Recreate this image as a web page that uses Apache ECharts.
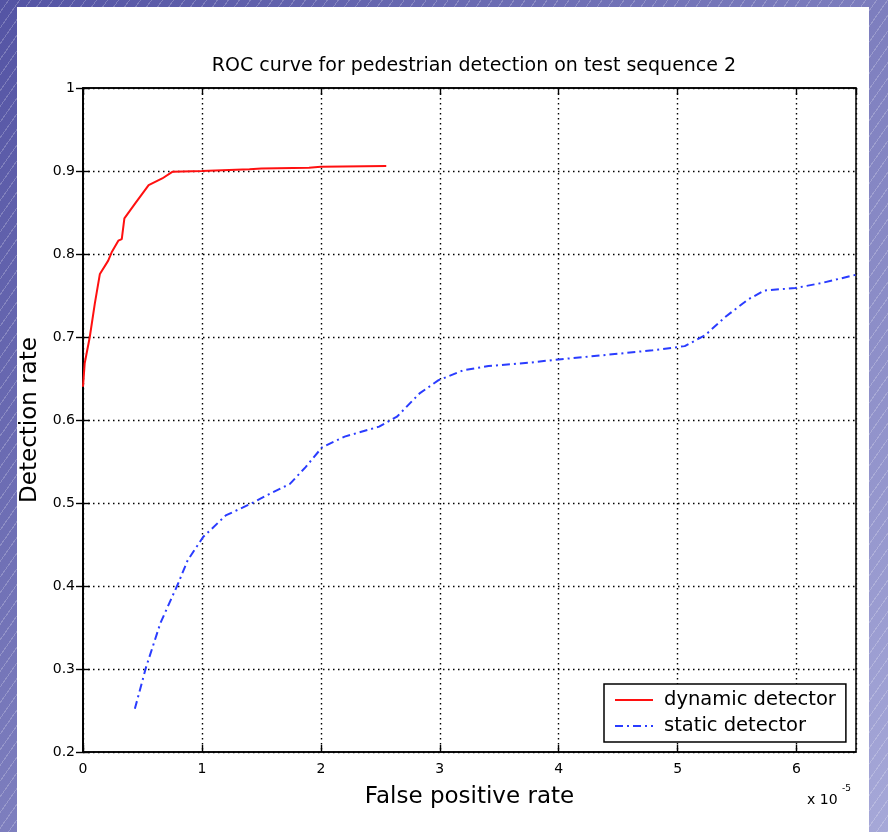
<!DOCTYPE html>
<html>
<head>
<meta charset="utf-8">
<script src="https://cdn.jsdelivr.net/npm/echarts@6/dist/echarts.min.js"></script>
<style>
html, body {
  margin: 0;
  padding: 0;
  width: 888px;
  height: 832px;
  overflow: hidden;
}
body {
  background-color: #7a7abd;
  background-image:
    repeating-linear-gradient(-55deg, rgba(255,255,255,0.22) 0px, rgba(255,255,255,0.22) 1px, transparent 1px, transparent 9px),
    linear-gradient(to bottom right, #5454a4, #a6a8d8);
}
.panel {
  position: absolute;
  left: 17px;
  top: 7px;
  width: 852px;
  height: 825px;
  background-color: #ffffff;
}
#main {
  position: absolute;
  left: 0;
  top: 0;
  width: 888px;
  height: 832px;
}
</style>
</head>
<body>
<div class="panel"></div>
<div id="main"></div>
<script>
// ROC curve data (false positive rate in units of 1e-5)
var dynamicX = [0, 0.014, 0.057, 0.099, 0.142, 0.212, 0.241, 0.297, 0.326, 0.348, 0.439, 0.552, 0.666, 0.751, 1.0, 1.4, 1.5, 1.9, 2.0, 2.55];
var dynamicY = [0.640, 0.668, 0.700, 0.740, 0.776, 0.792, 0.802, 0.816, 0.818, 0.843, 0.861, 0.883, 0.891, 0.899, 0.900, 0.902, 0.903, 0.904, 0.905, 0.906];

var staticX = [0.436, 0.53, 0.65, 0.80, 0.88, 1.01, 1.20, 1.41, 1.57, 1.74, 1.87, 2.01, 2.20, 2.49, 2.64, 2.83, 2.99, 3.20, 3.41, 3.75, 4.00, 4.37, 4.79, 5.06, 5.23, 5.40, 5.59, 5.73, 5.99, 6.21, 6.5];
var staticY = [0.252, 0.302, 0.355, 0.403, 0.431, 0.459, 0.485, 0.499, 0.511, 0.523, 0.543, 0.567, 0.580, 0.592, 0.604, 0.632, 0.648, 0.660, 0.665, 0.669, 0.673, 0.678, 0.684, 0.689, 0.702, 0.724, 0.745, 0.756, 0.759, 0.765, 0.775];

var xTicks = [0, 1, 2, 3, 4, 5, 6];
var yTicks = [0.2, 0.3, 0.4, 0.5, 0.6, 0.7, 0.8, 0.9, 1];

function pairs(xs, ys) {
  var out = [];
  for (var i = 0; i < xs.length; i++) {
    out.push([xs[i], ys[i]]);
  }
  return out;
}

var font = "DejaVu Sans";
var gridLine = {
  show: true,
  lineStyle: { color: "#000", width: 1.4, type: [1.5, 3.5] }
};
var tick = {
  show: true,
  inside: true,
  length: 7,
  lineStyle: { color: "#000", width: 1.4 }
};

var chart = echarts.init(document.getElementById("main"));
chart.setOption({
  backgroundColor: "transparent",
  animation: false,
  title: {
    text: "ROC curve for pedestrian detection on test sequence 2",
    left: 469,
    textAlign: "center",
    top: 52,
    textStyle: { fontFamily: font, fontSize: 19, fontWeight: "normal", color: "#000" }
  },
  grid: {
    left: 83,
    right: 32,
    top: 88,
    bottom: 80,
    show: true,
    backgroundColor: "#fff",
    borderColor: "#000",
    borderWidth: 1.5
  },
  legend: {
    orient: "vertical",
    left: 604,
    top: 684,
    backgroundColor: "#fff",
    borderColor: "#000",
    borderWidth: 1.5,
    borderRadius: 0,
    padding: [6, 10, 6, 10],
    itemGap: 6,
    itemWidth: 38,
    itemHeight: 14,
    // hide the symbol, keep only the line sample
    itemStyle: { opacity: 0 },
    textStyle: { fontFamily: font, fontSize: 19.5, color: "#000", padding: [0, 0, 0, 6] },
    data: ["dynamic detector", "static detector"]
  },
  xAxis: [
    {
      type: "value",
      min: 0,
      max: 6.5,
      interval: 1,
      name: "False positive rate",
      nameLocation: "middle",
      nameGap: 34,
      nameTextStyle: { fontFamily: font, fontSize: 23, color: "#000" },
      axisLine: { show: true, lineStyle: { color: "#000", width: 1.5 } },
      axisTick: tick,
      axisLabel: {
        showMaxLabel: false,
        margin: 10,
        fontFamily: font,
        fontSize: 14,
        color: "#000",
        formatter: function (v) { return xTicks.indexOf(v) >= 0 ? String(v) : ""; }
      },
      splitLine: gridLine
    },
    {
      type: "value",
      position: "top",
      min: 0,
      max: 6.5,
      interval: 1,
      axisLine: { show: true, lineStyle: { color: "#000", width: 1.5 } },
      axisTick: tick,
      axisLabel: { show: false },
      splitLine: { show: false }
    }
  ],
  yAxis: [
    {
      type: "value",
      min: 0.2,
      max: 1,
      interval: 0.1,
      name: "Detection rate",
      nameLocation: "middle",
      nameGap: 33,
      nameTextStyle: { fontFamily: font, fontSize: 23, color: "#000" },
      axisLine: { show: true, lineStyle: { color: "#000", width: 1.5 } },
      axisTick: tick,
      axisLabel: {
        margin: 8,
        fontFamily: font,
        fontSize: 14,
        color: "#000",
        formatter: function (v) {
          var r = Math.round(v * 10) / 10;
          return yTicks.indexOf(r) >= 0 ? String(r) : "";
        }
      },
      splitLine: gridLine
    },
    {
      type: "value",
      position: "right",
      min: 0.2,
      max: 1,
      interval: 0.1,
      axisLine: { show: true, lineStyle: { color: "#000", width: 1.5 } },
      axisTick: tick,
      axisLabel: { show: false },
      splitLine: { show: false }
    }
  ],
  graphic: [
    {
      type: "text",
      left: 807,
      top: 793,
      style: { text: "x 10", fontFamily: font, fontSize: 14, fill: "#000" }
    },
    {
      type: "text",
      left: 842,
      top: 784,
      style: { text: "-5", fontFamily: font, fontSize: 9, fill: "#000" }
    }
  ],
  series: [
    {
      name: "dynamic detector",
      type: "line",
      data: pairs(dynamicX, dynamicY),
      symbol: "none",
      showSymbol: false,
      lineStyle: { color: "#ff1010", width: 2 },
      itemStyle: { color: "#ff1010" }
    },
    {
      name: "static detector",
      type: "line",
      data: pairs(staticX, staticY),
      symbol: "none",
      showSymbol: false,
      lineStyle: { color: "#2a3cff", width: 2, type: [8, 4, 2, 4] },
      itemStyle: { color: "#2a3cff" }
    }
  ]
});
</script>
</body>
</html>
